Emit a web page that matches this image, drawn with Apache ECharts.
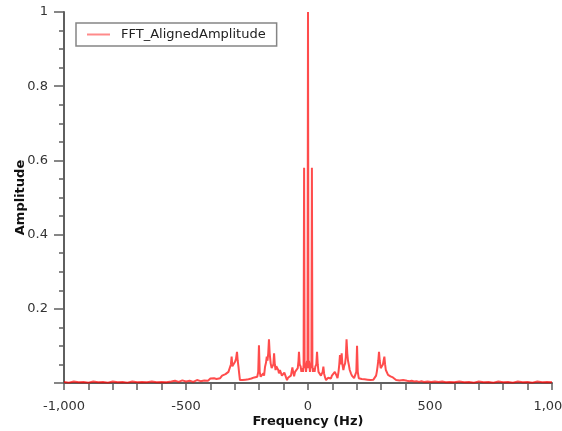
<!DOCTYPE html>
<html>
<head>
<meta charset="utf-8">
<script src="https://cdn.jsdelivr.net/npm/echarts@6/dist/echarts.min.js"></script>
<style>
  html, body { margin: 0; padding: 0; background: #fff; }
  #chart { width: 562px; height: 431px; }
</style>
</head>
<body>
<div id="chart"></div>
<script>
// frequency (Hz) of each FFT point
var freq = [
  -1000, -980, -960, -940, -920, -900, -880, -860, -840, -820, -800, -780, -760, -740, -720, -700,
  -680, -660, -640, -620, -600, -580,
  -560, -545, -530, -515, -500, -485, -470, -455, -440, -425, -410, -400, -392, -385, -375, -368,
  -360, -352, -345, -338, -332, -326, -320, -316, -313, -310, -307, -303, -299, -295, -291, -288,
  -285, -282, -279, -274, -268, -262, -256, -250, -244, -238, -232, -226, -220, -214, -208, -204,
  -201, -198, -194, -189, -183, -180, -176, -172, -169, -166, -163, -160, -157, -153, -149, -145,
  -142, -139, -136, -133, -130, -126, -122, -119, -115, -111, -107, -104, -101, -97, -94, -90,
  -86, -82, -78, -74, -70, -67, -64, -61, -57, -53, -49, -46, -42, -39, -37, -34,
  -30, -27, -24, -20, -18, -16, -14, -12, -10, -8, -6, -4, -2, 0, 2, 4,
  6, 8, 10, 12, 14, 16, 18, 20, 24, 27, 30, 34, 37, 40, 43, 46,
  49, 53, 57, 60, 63, 66, 70, 74, 78, 82, 86, 90, 94, 98, 102, 106,
  110, 113, 117, 121, 125, 128, 131, 134, 138, 141, 145, 148, 152, 155, 158, 161,
  164, 167, 171, 176, 180, 185, 189, 194, 198, 201, 204, 208, 214, 220, 226, 232,
  238, 244, 250, 256, 262, 268, 274, 279, 282, 285, 288, 291, 294, 298, 301, 304,
  307, 310, 313, 316, 319, 323, 328, 333, 338, 343, 348, 354, 361, 368, 375, 382,
  390, 398, 406, 415, 425, 435, 445, 455, 465, 475, 490, 505, 520, 535, 550, 565,
  580, 600, 620, 640, 660, 680, 700, 720, 740, 760, 780, 800, 820, 840, 860, 880,
  900, 920, 940, 960, 980, 1000
];
// normalised amplitude
var amp = [
  0.003, 0.001, 0.004, 0.002, 0.003, 0.001, 0.004, 0.002, 0.003, 0.001, 0.004, 0.002, 0.003, 0.001, 0.004, 0.002,
  0.003, 0.002, 0.004, 0.002, 0.003, 0.002,
  0.004, 0.006, 0.003, 0.007, 0.004, 0.006, 0.003, 0.008, 0.005, 0.007, 0.006, 0.012, 0.009, 0.013, 0.011, 0.016,
  0.013, 0.02, 0.017, 0.024, 0.02, 0.03, 0.035, 0.05, 0.071, 0.045, 0.04, 0.05, 0.057, 0.065, 0.084, 0.06,
  0.044, 0.025, 0.008, 0.006, 0.008, 0.005, 0.009, 0.007, 0.01, 0.008, 0.012, 0.01, 0.015, 0.012, 0.017, 0.03,
  0.102, 0.03, 0.017, 0.022, 0.026, 0.02, 0.044, 0.055, 0.071, 0.06, 0.08, 0.118, 0.08, 0.053, 0.04, 0.035,
  0.05, 0.08, 0.05, 0.035, 0.045, 0.05, 0.035, 0.026, 0.035, 0.03, 0.02, 0.025, 0.018, 0.028, 0.031, 0.015,
  0.008, 0.014, 0.012, 0.013, 0.02, 0.025, 0.042, 0.03, 0.018, 0.03, 0.025, 0.035, 0.04, 0.06, 0.084, 0.05,
  0.044, 0.03, 0.04, 0.03, 0.05, 0.58, 0.06, 0.04, 0.05, 0.03, 0.045, 0.06, 0.04, 1.0, 0.04, 0.06,
  0.045, 0.03, 0.05, 0.04, 0.06, 0.58, 0.05, 0.03, 0.04, 0.03, 0.044, 0.05, 0.084, 0.05, 0.03, 0.035,
  0.031, 0.02, 0.015, 0.03, 0.044, 0.025, 0.015, 0.008, 0.012, 0.014, 0.01, 0.016, 0.012, 0.02, 0.015, 0.022,
  0.03, 0.035, 0.02, 0.013, 0.03, 0.049, 0.075, 0.05, 0.08, 0.05, 0.035, 0.045, 0.053, 0.07, 0.118, 0.08,
  0.06, 0.05, 0.035, 0.026, 0.02, 0.015, 0.013, 0.01, 0.03, 0.1, 0.03, 0.013, 0.009, 0.011, 0.008, 0.01,
  0.007, 0.009, 0.006, 0.008, 0.006, 0.009, 0.012, 0.02, 0.03, 0.044, 0.06, 0.084, 0.06, 0.04, 0.044, 0.038,
  0.05, 0.055, 0.071, 0.05, 0.035, 0.03, 0.022, 0.026, 0.018, 0.013, 0.015, 0.01, 0.008, 0.011, 0.007, 0.009,
  0.008, 0.01, 0.006, 0.005, 0.006, 0.004, 0.005, 0.003, 0.005, 0.003, 0.004, 0.003, 0.004, 0.003, 0.004, 0.002,
  0.003, 0.002, 0.004, 0.002, 0.003, 0.001, 0.004, 0.002, 0.003, 0.001, 0.004, 0.002, 0.003, 0.001, 0.004, 0.002,
  0.003, 0.001, 0.004, 0.002, 0.003, 0.002
];
var seriesName = 'FFT_AlignedAmplitude';

var chart = echarts.init(document.getElementById('chart'), null, {renderer: 'canvas'});

var points = freq.map(function (f, i) { return [f, amp[i]]; });

var axisColor = '#5f5f5f';
var labelStyle = { color: '#333', fontSize: 13, fontFamily: 'DejaVu Sans' };

var option = {
    animation: false,
    backgroundColor: '#fff',
    grid: { left: 64, right: 10, top: 12, bottom: 48, outerBoundsMode: 'none', containLabel: false },
    legend: {
        left: 76,
        top: 23,
        padding: [5, 11, 5, 11],
        borderColor: '#858585',
        borderWidth: 1.5,
        backgroundColor: '#fff',
        icon: 'rect',
        itemWidth: 23,
        itemHeight: 2,
        itemStyle: { color: '#ff8a8a' },
        textStyle: { color: '#222', fontSize: 13, fontFamily: 'DejaVu Sans', padding: [0, 0, 0, 6] },
        data: [seriesName]
    },
    xAxis: {
        type: 'value',
        min: -1000,
        max: 1000,
        interval: 500,
        name: 'Frequency (Hz)',
        nameLocation: 'middle',
        nameGap: 32,
        nameMoveOverlap: false,
        nameTextStyle: { color: '#111', fontSize: 13, fontWeight: 'bold', fontFamily: 'DejaVu Sans' },
        axisLine: { show: true, onZero: false, lineStyle: { color: axisColor, width: 2 } },
        axisTick: { show: true, length: 7, lineStyle: { color: axisColor, width: 1.5 } },
        minorTick: { show: true, splitNumber: 5, length: 7, lineStyle: { color: axisColor, width: 1.5 } },
        axisLabel: Object.assign({
            margin: 17,
            formatter: function (v) { return v.toLocaleString('en-US'); }
        }, labelStyle),
        splitLine: { show: false }
    },
    yAxis: {
        type: 'value',
        min: 0,
        max: 1,
        interval: 0.2,
        name: 'Amplitude',
        nameLocation: 'middle',
        nameGap: 37,
        nameMoveOverlap: false,
        nameTextStyle: { color: '#111', fontSize: 13, fontWeight: 'bold', fontFamily: 'DejaVu Sans' },
        axisLine: { show: true, onZero: false, lineStyle: { color: axisColor, width: 2 } },
        axisTick: { show: true, length: 10, lineStyle: { color: axisColor, width: 1.5 } },
        minorTick: { show: true, splitNumber: 4, length: 5, lineStyle: { color: axisColor, width: 1.5 } },
        axisLabel: Object.assign({
            margin: 16,
            formatter: function (v) { return v === 0 ? '' : String(Math.round(v * 10) / 10); }
        }, labelStyle),
        splitLine: { show: false }
    },
    series: [
        {
            name: seriesName,
            type: 'line',
            data: points,
            symbol: 'none',
            showSymbol: false,
            lineStyle: { color: '#ff0000', width: 2, opacity: 0.7 },
            itemStyle: { color: '#ff0000' },
            emphasis: { disabled: true }
        }
    ]
};
chart.setOption(option);
</script>
</body>
</html>
